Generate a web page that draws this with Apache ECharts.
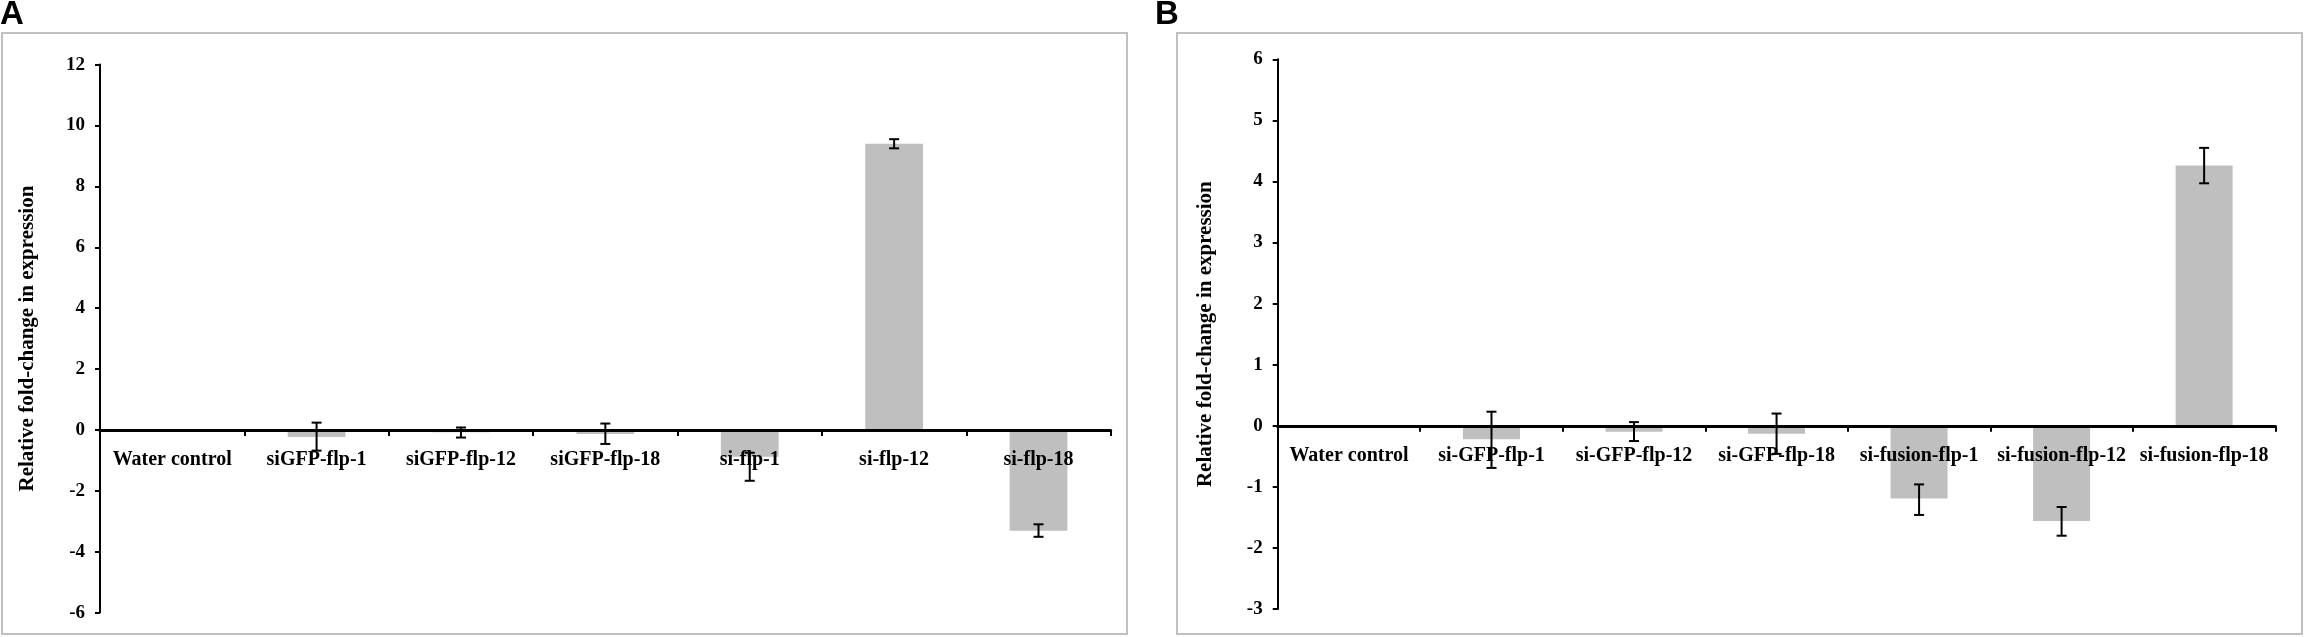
<!DOCTYPE html>
<html>
<head>
<meta charset="utf-8">
<script src="https://cdn.jsdelivr.net/npm/echarts@6/dist/echarts.min.js"></script>
<style>
html,body{margin:0;padding:0;background:#fff;}
#chart{width:2305px;height:637px;}
</style>
</head>
<body>
<div id="chart"></div>
<script>
// ---- Data ----
const categoriesA = ['Water control', 'siGFP-flp-1', 'siGFP-flp-12', 'siGFP-flp-18', 'si-flp-1', 'si-flp-12', 'si-flp-18'];
const valuesA     = [0, -0.23, -0.08, -0.13, -0.88, 9.40, -3.31];
const errLowA     = [null, -0.68, -0.25, -0.46, -1.67, 9.25, -3.51];
const errHighA    = [null, 0.24, 0.08, 0.21, -0.75, 9.55, -3.10];

const categoriesB = ['Water control', 'si-GFP-flp-1', 'si-GFP-flp-12', 'si-GFP-flp-18', 'si-fusion-flp-1', 'si-fusion-flp-12', 'si-fusion-flp-18'];
const valuesB     = [0, -0.22, -0.10, -0.13, -1.19, -1.56, 4.26];
const errLowB     = [null, -0.69, -0.25, -0.46, -1.46, -1.80, 3.97];
const errHighB    = [null, 0.23, 0.06, 0.20, -0.96, -1.33, 4.55];

const yTicksA = {min: -6, max: 12, interval: 2};
const yTicksB = {min: -3, max: 6, interval: 1};
const yTitle = 'Relative fold-change in expression';

// ---- layout ----
const gridA = {left: 100, top: 64.6, width: 1010.7, height: 548};
const gridB = {left: 1277.7, top: 59.3, width: 997.7, height: 549.7};
const labelGap = 20; // distance of category labels below the zero line

// ---- helpers ----
function errData(low, high) {
  const out = [];
  for (let i = 0; i < low.length; i++) {
    if (low[i] !== null && high[i] !== null) out.push([i, low[i], high[i]]);
  }
  return out;
}
function renderErr(params, api) {
  const x = api.value(0);
  const lo = api.coord([x, api.value(1)]);
  const hi = api.coord([x, api.value(2)]);
  const cap = 5;
  const st = {stroke: '#000', lineWidth: 2};
  return {
    type: 'group',
    children: [
      {type: 'line', shape: {x1: lo[0], y1: lo[1], x2: hi[0], y2: hi[1]}, style: st},
      {type: 'line', shape: {x1: lo[0] - cap, y1: lo[1], x2: lo[0] + cap, y2: lo[1]}, style: st},
      {type: 'line', shape: {x1: hi[0] - cap, y1: hi[1], x2: hi[0] + cap, y2: hi[1]}, style: st}
    ]
  };
}
const serif = 'Liberation Serif';
function xAxisCfg(idx, cats, grid, t) {
  // labels sit just under the zero line, not at the bottom of the grid
  const zeroFromBottom = grid.height * (0 - t.min) / (t.max - t.min);
  return {
    type: 'category', gridIndex: idx, data: cats, z: 10,
    boundaryGap: true,
    axisLine: {onZero: true, lineStyle: {color: '#000', width: 3}},
    axisTick: {show: true, inside: false, length: 6, lineStyle: {color: '#000', width: 2}},
    axisLabel: {interval: 0, margin: labelGap - zeroFromBottom, color: '#000', fontFamily: serif, fontWeight: 'bold', fontSize: 20},
    splitLine: {show: false}
  };
}
function yAxisCfg(idx, t) {
  return {
    type: 'value', gridIndex: idx, min: t.min, max: t.max, interval: t.interval,
    name: yTitle, nameLocation: 'middle', nameRotate: 90, nameGap: 62,
    nameTextStyle: {color: '#000', fontFamily: serif, fontWeight: 'bold', fontSize: 21},
    axisLine: {show: true, lineStyle: {color: '#000', width: 2}},
    axisTick: {show: true, inside: false, length: 5, lineStyle: {color: '#000', width: 2}},
    axisLabel: {margin: 15, color: '#000', fontFamily: serif, fontWeight: 'bold', fontSize: 19},
    splitLine: {show: false}
  };
}

const chart = echarts.init(document.getElementById('chart'));
chart.setOption({
  animation: false,
  backgroundColor: '#fff',
  grid: [
    Object.assign({containLabel: false}, gridA),
    Object.assign({containLabel: false}, gridB)
  ],
  xAxis: [xAxisCfg(0, categoriesA, gridA, yTicksA), xAxisCfg(1, categoriesB, gridB, yTicksB)],
  yAxis: [yAxisCfg(0, yTicksA), yAxisCfg(1, yTicksB)],
  graphic: [
    {type: 'rect', shape: {x: 2, y: 33, width: 1125, height: 601}, style: {fill: 'none', stroke: '#c0c0c0', lineWidth: 2}, z: 0},
    {type: 'rect', shape: {x: 1177, y: 33, width: 1125, height: 601}, style: {fill: 'none', stroke: '#c0c0c0', lineWidth: 2}, z: 0},
    {type: 'text', x: 0, y: -2, style: {text: 'A', font: 'bold 33px "Liberation Sans"', fill: '#000', textVerticalAlign: 'top'}},
    {type: 'text', x: 1155, y: -2, style: {text: 'B', font: 'bold 33px "Liberation Sans"', fill: '#000', textVerticalAlign: 'top'}}
  ],
  series: [
    {type: 'bar', xAxisIndex: 0, yAxisIndex: 0, data: valuesA, barWidth: '40%', itemStyle: {color: '#bfbfbf'}, z: 2},
    {type: 'custom', xAxisIndex: 0, yAxisIndex: 0, data: errData(errLowA, errHighA), renderItem: renderErr, encode: {x: 0, y: [1, 2]}, z: 12},
    {type: 'bar', xAxisIndex: 1, yAxisIndex: 1, data: valuesB, barWidth: '40%', itemStyle: {color: '#bfbfbf'}, z: 2},
    {type: 'custom', xAxisIndex: 1, yAxisIndex: 1, data: errData(errLowB, errHighB), renderItem: renderErr, encode: {x: 0, y: [1, 2]}, z: 12}
  ]
});
</script>
</body>
</html>
